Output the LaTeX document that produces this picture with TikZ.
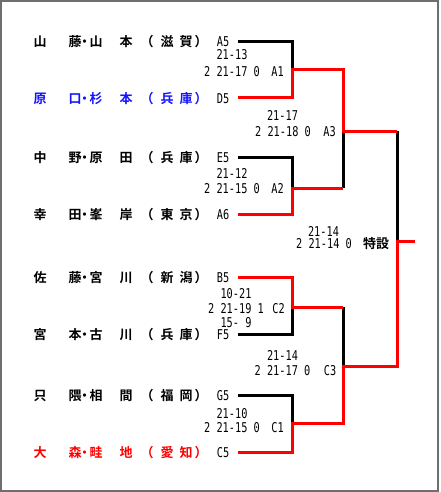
\documentclass[tikz,border=0pt]{standalone}
\usepackage{fontspec}
\setmainfont{Noto Sans CJK JP}[BoldFont={Noto Sans CJK JP Bold}]
\newfontfamily\digitfont[FakeStretch=0.76]{DejaVu Sans Mono}
\definecolor{framegray}{RGB}{110,110,110}
\definecolor{winred}{RGB}{255,0,0}
\definecolor{nameblue}{RGB}{20,20,255}
\newcommand\chat[2]{\rlap{\hskip#1pt\makebox[0pt]{#2}}}
\newcommand\teamname[6]{\hbox to 210pt{\chat{40}{#1}\chat{75}{#2}\chat{84.5}{・}\chat{96}{#3}\chat{126}{#4}\chat{147}{（}\chat{167}{#5}\chat{186}{#6}\chat{201}{）}\hfil}}
\tikzset{
  namelbl/.style={anchor=base west, inner sep=0pt, font=\fontsize{13}{13}\selectfont\bfseries},
  codelbl/.style={anchor=base, inner sep=0pt, font=\fontsize{13.5}{13.5}\selectfont\digitfont},
  scorelbl/.style={anchor=base, inner sep=0pt, font=\fontsize{13.5}{13.5}\selectfont\digitfont},
  cjklbl/.style={anchor=base, inner sep=0pt, font=\fontsize{13}{13}\selectfont\bfseries},
  loseline/.style={draw=black, line width=3pt, line join=miter},
  winline/.style={draw=winred, line width=3pt, line join=miter},
}
\begin{document}
\begin{tikzpicture}[x=1pt,y=-1pt]
\useasboundingbox (0,0) rectangle (441,492);
\fill[white] (0,0) rectangle (441,492);
\draw[framegray, line width=2pt] (1,1) rectangle (438,490.5);

% team names
\node[namelbl] (nA5) at (0,46.5) {\teamname{山}{藤}{山}{本}{滋}{賀}};
\node[namelbl, text=nameblue] (nD5) at (0,103) {\teamname{原}{口}{杉}{本}{兵}{庫}};
\node[namelbl] (nE5) at (0,162.5) {\teamname{中}{野}{原}{田}{兵}{庫}};
\node[namelbl] (nA6) at (0,219) {\teamname{幸}{田}{峯}{岸}{東}{京}};
\node[namelbl] (nB5) at (0,282.5) {\teamname{佐}{藤}{宮}{川}{新}{潟}};
\node[namelbl] (nF5) at (0,339.5) {\teamname{宮}{本}{古}{川}{兵}{庫}};
\node[namelbl] (nG5) at (0,400) {\teamname{只}{隈}{相}{間}{福}{岡}};
\node[namelbl, text=winred] (nC5) at (0,457.5) {\teamname{大}{森}{畦}{地}{愛}{知}};

% seed codes
\node[codelbl] (A5) at (223,46.5) {A5};
\node[codelbl] (D5) at (223,103) {D5};
\node[codelbl] (E5) at (223,162.5) {E5};
\node[codelbl] (A6) at (223,219) {A6};
\node[codelbl] (B5) at (223,282.5) {B5};
\node[codelbl] (F5) at (223,339.5) {F5};
\node[codelbl] (G5) at (223,400) {G5};
\node[codelbl] (C5) at (223,457.5) {C5};

% match labels and scores
\node[scorelbl] (sA1a) at (232,60) {21-13};
\node[scorelbl] (sA1b) at (232,76.5) {2 21-17 0};
\node[codelbl] (mA1) at (277.5,76.5) {A1};

\node[scorelbl] (sA3a) at (282.5,121) {21-17};
\node[scorelbl] (sA3b) at (283,136.5) {2 21-18 0};
\node[codelbl] (mA3) at (329.5,136.5) {A3};

\node[scorelbl] (sA2a) at (232,178) {21-12};
\node[scorelbl] (sA2b) at (232,193.5) {2 21-15 0};
\node[codelbl] (mA2) at (277.5,193.5) {A2};

\node[scorelbl] (sFa) at (323.5,236) {21-14};
\node[scorelbl] (sFb) at (324,248) {2 21-14 0};
\node[cjklbl] (mF) at (376,248) {特設};

\node[scorelbl] (sC2a) at (236,298.5) {10-21};
\node[scorelbl] (sC2b) at (236,313.5) {2 21-19 1};
\node[codelbl] (mC2) at (278.5,313.5) {C2};
\node[scorelbl] (sC2c) at (236,327.5) {15- 9};

\node[scorelbl] (sC3a) at (282.5,360) {21-14};
\node[scorelbl] (sC3b) at (282.5,375) {2 21-17 0};
\node[codelbl] (mC3) at (330,375) {C3};

\node[scorelbl] (sC1a) at (232,418) {21-10};
\node[scorelbl] (sC1b) at (232,432) {2 21-15 0};
\node[codelbl] (mC1) at (277.5,432) {C1};

% bracket coordinates
\coordinate (pA5) at (238,41.5);
\coordinate (pD5) at (238,98);
\coordinate (pE5) at (238,157.5);
\coordinate (pA6) at (238,214);
\coordinate (pB5) at (238,277.5);
\coordinate (pF5) at (238,334.5);
\coordinate (pG5) at (238,395);
\coordinate (pC5) at (238,452.5);
\coordinate (jA1) at (292,70);
\coordinate (wA1) at (343,70);
\coordinate (jA2) at (292,188);
\coordinate (wA2) at (343,188);
\coordinate (jA3) at (343,131);
\coordinate (wA3) at (397,131);
\coordinate (jC2) at (292,307);
\coordinate (wC2) at (343,307);
\coordinate (jC1) at (292,423);
\coordinate (wC1) at (343,423);
\coordinate (jC3) at (343,366);
\coordinate (wC3) at (397,366);
\coordinate (jF) at (397,241);
\coordinate (endF) at (415,241);

% losers (black)
\draw[loseline] (pA5) -| (jA1);
\draw[loseline] (pE5) -| (jA2);
\draw[loseline] (wA2) -- (jA3);
\draw[loseline] (pF5) -| (jC2);
\draw[loseline] (pG5) -| (jC1);
\draw[loseline] (wC2) -- (jC3);
\draw[loseline] (wA3) -- (jF);

% winners (red)
\draw[winline] (pD5) -| (jA1) -- (wA1) -- (jA3) -- (wA3);
\draw[winline] (pA6) -| (jA2) -- (wA2);
\draw[winline] (pB5) -| (jC2) -- (wC2);
\draw[winline] (pC5) -| (jC1) -- (wC1) -- (jC3) -- (wC3) -- (jF) -- (endF);
\end{tikzpicture}
\end{document}
